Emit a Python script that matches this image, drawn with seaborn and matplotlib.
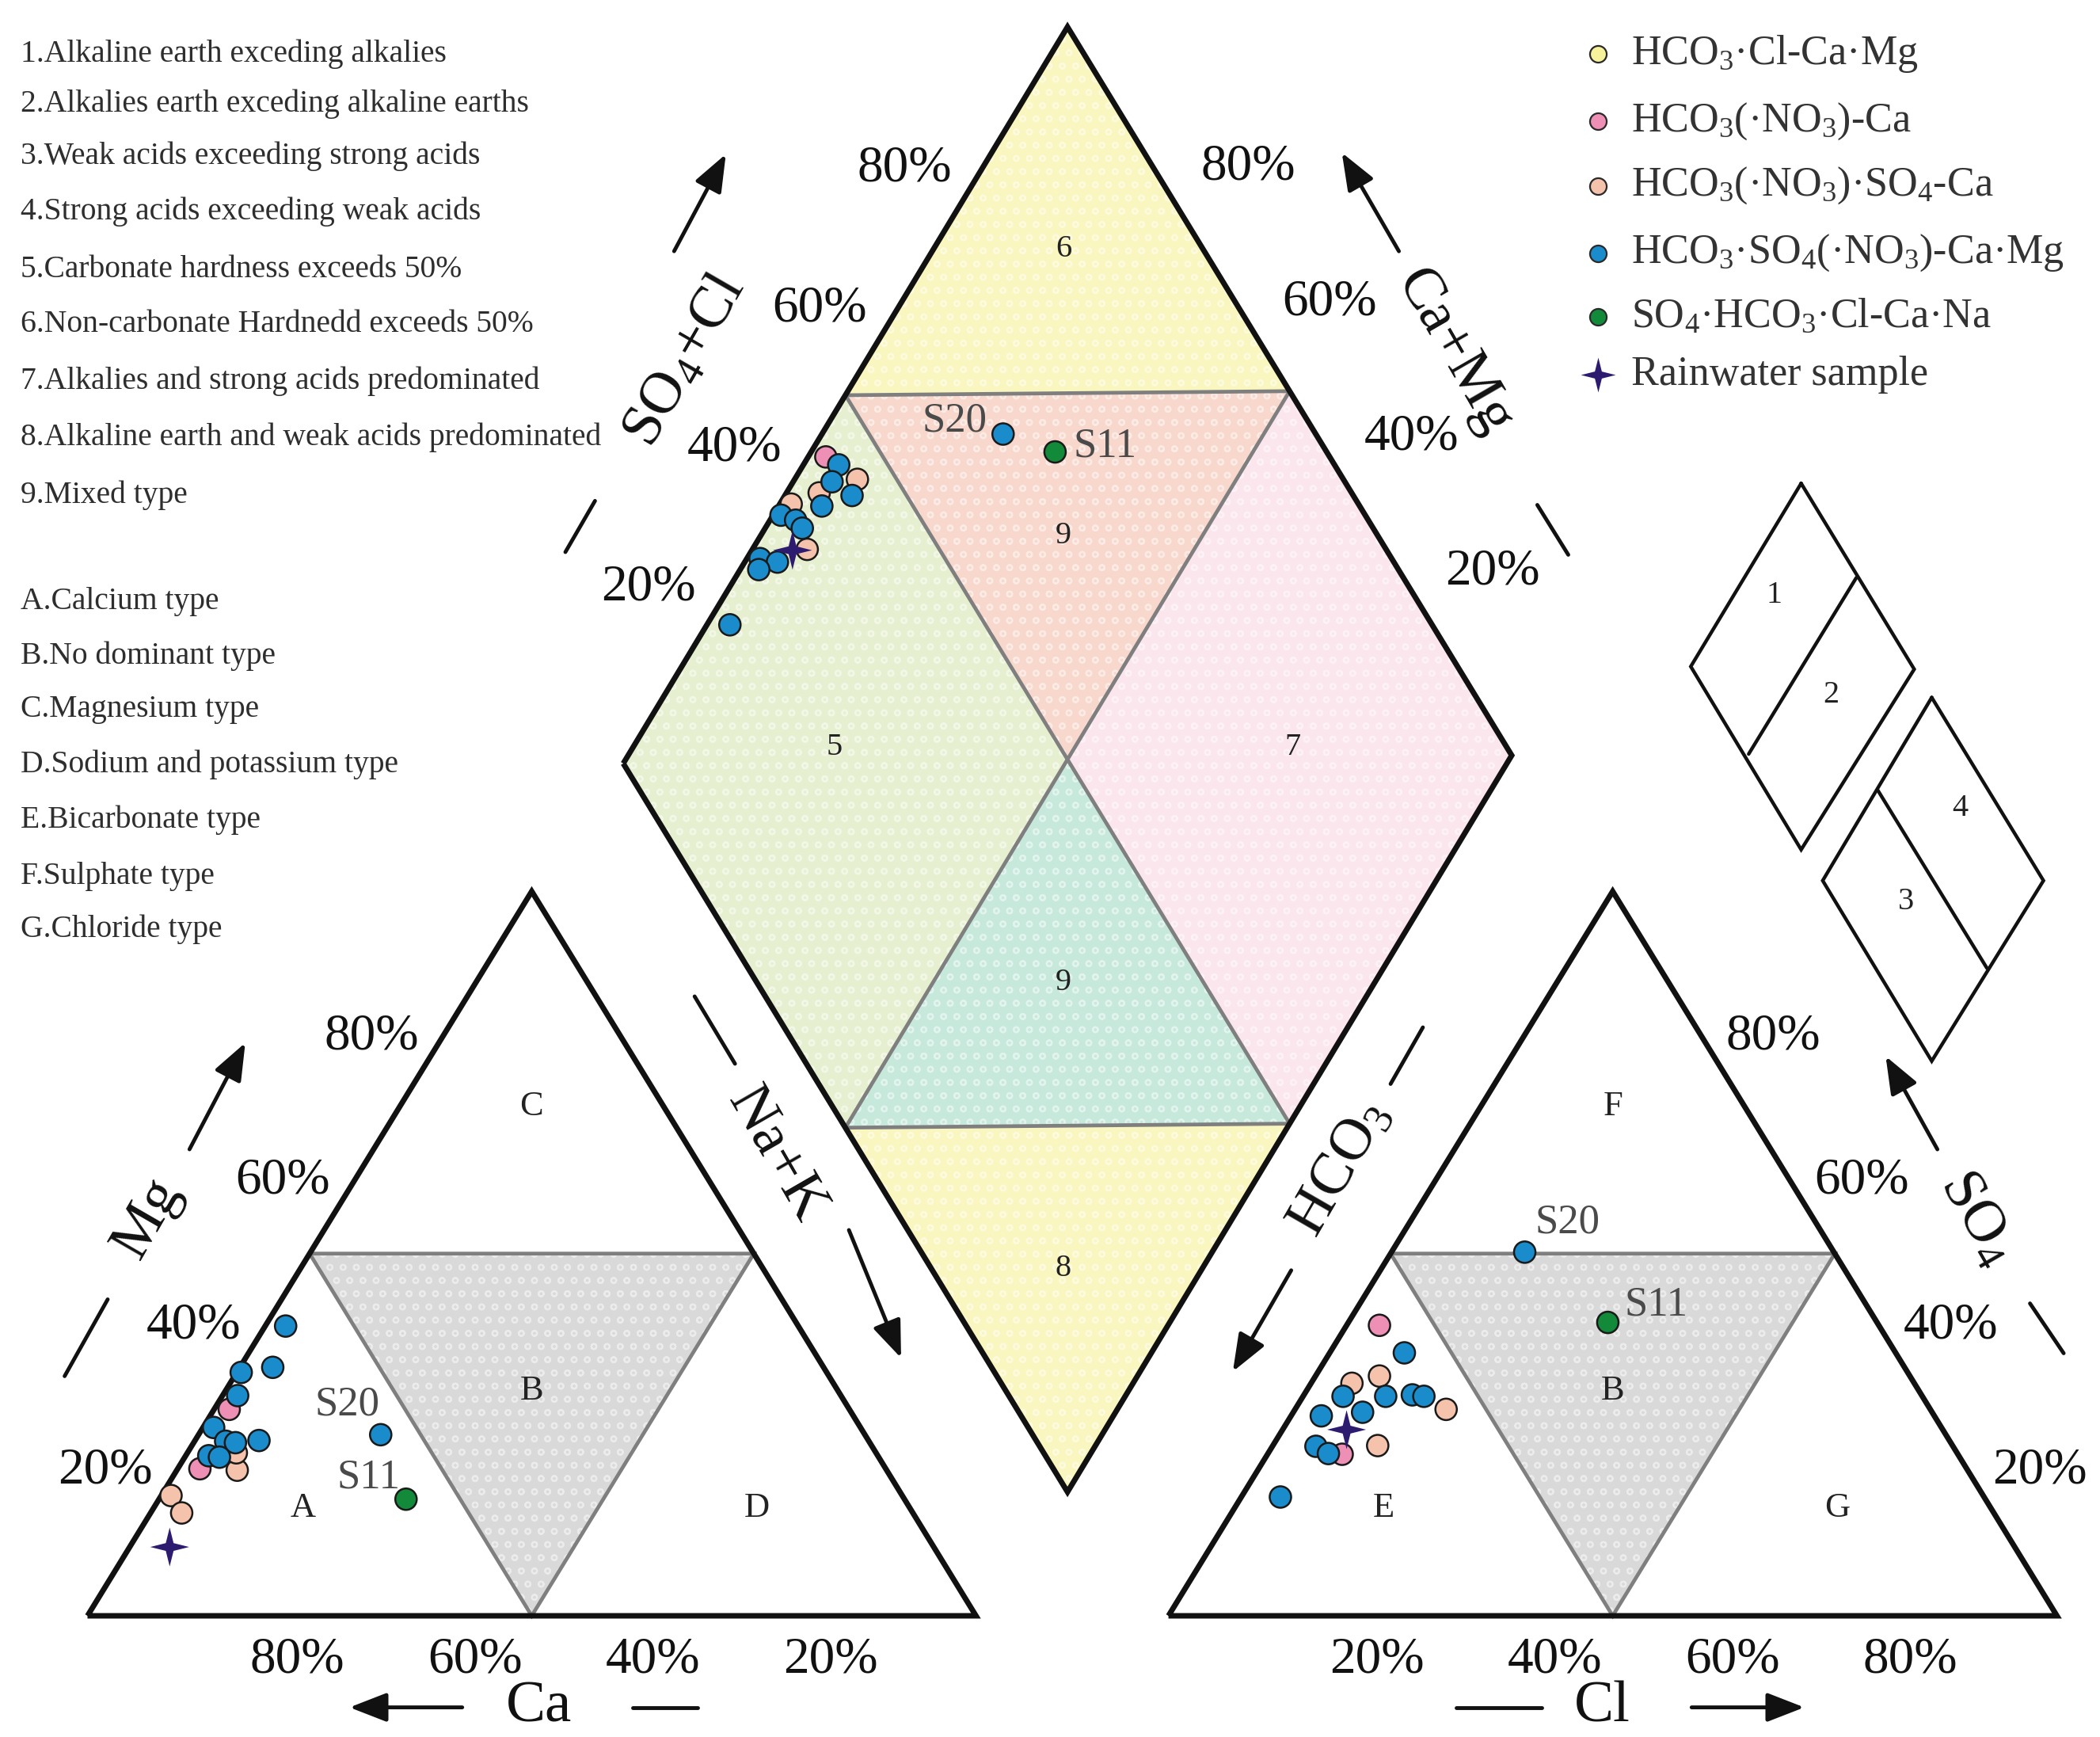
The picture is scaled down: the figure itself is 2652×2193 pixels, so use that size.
import numpy as np
import pandas as pd
import matplotlib
matplotlib.use("Agg")
import matplotlib.pyplot as plt
import seaborn as sns
from matplotlib.path import Path

# values, in percent (meq)
# cation triangle: Mg and Na+K
pink_mg = [28.5, 20.3]
pink_nak = [1.7, 2.5]
salmon_mg = [16.6, 14.2, 20.1, 22.5]
salmon_nak = [1.1, 3.5, 6.8, 5.5]
blue_mg = [40.0, 33.6, 34.3, 30.4, 26.0, 24.1, 23.9, 24.2, 22.1, 21.9, 25.0]
blue_nak = [2.3, 0.5, 3.7, 1.7, 1.2, 3.5, 4.7, 7.2, 2.6, 3.9, 20.5]
green_mg = [16.1]
green_nak = [27.8]
rain_mg = [9.5]
rain_nak = [4.5]

# anion triangle: SO4 and Cl
pink_so4 = [40.1, 22.3]
pink_cl = [3.7, 8.4]
salmon_so4 = [32.1, 33.1, 28.5, 23.5]
salmon_cl = [4.6, 7.2, 17.0, 11.8]
blue_so4 = [36.3, 30.3, 30.3, 30.5, 30.3, 28.1, 27.6, 23.4, 22.4, 16.4, 50.2]
blue_cl = [8.4, 4.5, 9.3, 12.2, 13.6, 7.8, 3.4, 4.9, 6.8, 4.4, 15.0]
green_so4 = [40.5]
green_cl = [29.2]
rain_so4 = [25.7]
rain_cl = [7.2]

# diamond: SO4+Cl and Na+K
pink_sc = [43.6]
pink_dn = [2.0]
salmon_sc = [45.6, 40.4, 36.5, 35.2]
salmon_dn = [7.1, 3.7, 1.3, 6.2]
blue_sc = [44.5, 42.6, 43.9, 39.8, 34.6, 35.9, 36.1, 29.3, 31.0, 28.4, 21.4, 65.0]
blue_dn = [4.0, 4.4, 7.6, 4.9, 0.9, 2.9, 4.2, 1.5, 3.7, 2.1, 2.6, 20.5]
green_sc = [69.6]
green_dn = [27.6]
rain_sc = [33.5]
rain_dn = [4.6]

ticks = [20, 40, 60, 80]

legend_labels = ["HCO$_3$·Cl-Ca·Mg", "HCO$_3$(·NO$_3$)-Ca", "HCO$_3$(·NO$_3$)·SO$_4$-Ca",
                 "HCO$_3$·SO$_4$(·NO$_3$)-Ca·Mg", "SO$_4$·HCO$_3$·Cl-Ca·Na", "Rainwater sample"]
legend_colors = ["#f6f29b", "#ee8fb5", "#f5c2ac", "#1b8ccb", "#138a3a", "#2d1b70"]

field_notes = ["1.Alkaline earth exceding alkalies",
               "2.Alkalies earth exceding alkaline earths",
               "3.Weak acids exceeding strong acids",
               "4.Strong acids exceeding weak acids",
               "5.Carbonate hardness exceeds 50%",
               "6.Non-carbonate Hardnedd exceeds 50%",
               "7.Alkalies and strong acids predominated",
               "8.Alkaline earth and weak acids predominated",
               "9.Mixed type"]
type_notes = ["A.Calcium type", "B.No dominant type", "C.Magnesium type",
              "D.Sodium and potassium type", "E.Bicarbonate type",
              "F.Sulphate type", "G.Chloride type"]


# geometry of the three plots (page units)
def cat_xy(mg, nak):
    mg = np.asarray(mg) / 100.0
    nak = np.asarray(nak) / 100.0
    return 65 + 660 * nak + 330 * mg, 1200 - 538 * mg


def an_xy(so4, cl):
    so4 = np.asarray(so4) / 100.0
    cl = np.asarray(cl) / 100.0
    return 868 + 660 * cl + 330 * so4, 1200 - 538 * so4


def dia_xy(s, n):
    s = np.asarray(s) / 100.0
    n = np.asarray(n) / 100.0
    return 463 + 330 * (s + n), 567 - 547 * s + 541 * n


sns.set_theme(style="white")
plt.rcParams["font.family"] = ["Liberation Serif", "DejaVu Serif"]
plt.rcParams["mathtext.fontset"] = "custom"
plt.rcParams["mathtext.rm"] = "Liberation Serif"
plt.rcParams["mathtext.it"] = "Liberation Serif:italic"
plt.rcParams["mathtext.default"] = "rm"
plt.rcParams["hatch.linewidth"] = 1.6

fig = plt.figure(figsize=(26.52, 21.93), dpi=100)
ax = fig.add_axes([0, 0, 1, 1])
ax.set_xlim(0, 1560)
ax.set_ylim(1290, 0)
ax.axis("off")

BLACK = "#111111"
GREY = "#7f7f7f"
dots = (1, 1, 1, 0.45)


def fill(fn, pts, color):
    a, b = zip(*pts)
    xs, ys = fn(a, b)
    ax.fill(xs, ys, facecolor=color, edgecolor=dots, hatch="o", linewidth=0, zorder=1)


def line(fn, pts, color, lw, z):
    a, b = zip(*pts)
    xs, ys = fn(a, b)
    ax.plot(xs, ys, color=color, lw=lw, zorder=z, solid_joinstyle="miter", solid_capstyle="butt")


# diamond fields
fill(dia_xy, [(100, 0), (50, 0), (100, 50)], "#faf6bf")
fill(dia_xy, [(50, 0), (100, 50), (50, 50)], "#f8d8cd")
fill(dia_xy, [(0, 0), (50, 0), (50, 50), (0, 50)], "#e6f0d1")
fill(dia_xy, [(100, 50), (100, 100), (50, 100), (50, 50)], "#fbe6ee")
fill(dia_xy, [(50, 50), (0, 50), (50, 100)], "#c6e9dc")
fill(dia_xy, [(0, 50), (0, 100), (50, 100)], "#faf6bf")
line(dia_xy, [(50, 0), (100, 50)], GREY, 3.4, 2)
line(dia_xy, [(0, 50), (50, 100)], GREY, 3.4, 2)
line(dia_xy, [(50, 0), (50, 100)], GREY, 3.4, 2)
line(dia_xy, [(100, 50), (0, 50)], GREY, 3.4, 2)
line(dia_xy, [(0, 0), (100, 0), (100, 100), (0, 100), (0, 0)], BLACK, 5, 3)

# triangles with the "no dominant type" field
for fn in (cat_xy, an_xy):
    fill(fn, [(50, 0), (50, 50), (0, 50)], "#d9d9d9")
    line(fn, [(50, 0), (50, 50), (0, 50), (50, 0)], GREY, 3.4, 2)
    line(fn, [(0, 0), (0, 100), (100, 0), (0, 0)], BLACK, 5, 3)

# samples
rows = []
for grp, mg, nak, so4, cl, sc, dn in [
    ("salmon", salmon_mg, salmon_nak, salmon_so4, salmon_cl, salmon_sc, salmon_dn),
    ("pink", pink_mg, pink_nak, pink_so4, pink_cl, pink_sc, pink_dn),
    ("blue", blue_mg, blue_nak, blue_so4, blue_cl, blue_sc, blue_dn),
    ("green", green_mg, green_nak, green_so4, green_cl, green_sc, green_dn),
    ("rain", rain_mg, rain_nak, rain_so4, rain_cl, rain_sc, rain_dn),
]:
    for fn, a, b in [(cat_xy, mg, nak), (an_xy, so4, cl), (dia_xy, sc, dn)]:
        xs, ys = fn(a, b)
        for x, y in zip(xs, ys):
            rows.append({"x": x, "y": y, "group": grp})
df = pd.DataFrame(rows)

pal = {"salmon": "#f5c2ac", "pink": "#ee8fb5", "blue": "#1b8ccb", "green": "#138a3a"}
sns.scatterplot(data=df[df.group != "rain"], x="x", y="y", hue="group", palette=pal,
                s=380, edgecolor="#1a1a1a", linewidth=1.8, legend=False, ax=ax, zorder=5)

star = Path([(0, 1), (0.2, 0.2), (1, 0), (0.2, -0.2), (0, -1), (-0.2, -0.2), (-1, 0), (-0.2, 0.2), (0, 1)],
            [Path.MOVETO] + [Path.LINETO] * 7 + [Path.CLOSEPOLY])
sns.scatterplot(data=df[df.group == "rain"], x="x", y="y", marker=star, s=1250, color="#2d1b70",
                edgecolor="none", legend=False, ax=ax, zorder=6)
ax.set_xlim(0, 1560)
ax.set_ylim(1290, 0)

# sample names
lab = dict(fontsize=38, color="#4a4a4a", ha="center", va="center", zorder=7)
x, y = cat_xy(blue_mg[-1], blue_nak[-1]); ax.text(x - 25, y - 22, "S20", **lab)
x, y = cat_xy(green_mg[0], green_nak[0]); ax.text(x - 28, y - 16, "S11", **lab)
x, y = an_xy(blue_so4[-1], blue_cl[-1]); ax.text(x + 32, y - 22, "S20", **lab)
x, y = an_xy(green_so4[0], green_cl[0]); ax.text(x + 36, y - 13, "S11", **lab)
x, y = dia_xy(blue_sc[-1], blue_dn[-1]); ax.text(x - 36, y - 10, "S20", **lab)
x, y = dia_xy(green_sc[0], green_dn[0]); ax.text(x + 37, y - 4, "S11", **lab)

# field numbers and letters
num = dict(fontsize=29, color="#222222", ha="center", va="center")
for t, (x, y) in zip("695978", [(790, 185), (790, 398), (620, 555), (790, 730), (960, 555), (790, 942)]):
    ax.text(x, y, t, **num)
let = dict(fontsize=32, color="#222222", ha="center", va="center")
for t, (x, y) in zip("CBAD", [(395, 822), (395, 1033), (225, 1120), (562, 1120)]):
    ax.text(x, y, t, **let)
for t, (x, y) in zip("FBEG", [(1198, 822), (1198, 1033), (1028, 1120), (1365, 1120)]):
    ax.text(x, y, t, **let)

# percentage scales
pct = dict(fontsize=47, color=BLACK, ha="center", va="center")
for v in ticks:
    k = (80 - v) / 60
    x, y = cat_xy(v, 0); ax.text(x - 53, y, f"{v}%", **pct)
    x, y = cat_xy(0, 100 - v); ax.text(x + 24, y + 33, f"{v}%", **pct)
    x, y = an_xy(0, v); ax.text(x + 23, y + 33, f"{v}%", **pct)
    x, y = an_xy(v, 100 - v); ax.text(x + 53, y, f"{v}%", **pct)
    x, y = dia_xy(v, 0); ax.text(x - 55 + 8 * k, y - 4 - 17 * k, f"{v}%", **pct)
    x, y = dia_xy(100, 100 - v); ax.text(x + 68 - 16 * k, y - 4 - 24 * k, f"{v}%", **pct)

# axis names with arrows
ttl = dict(fontsize=54, color=BLACK, ha="center", va="center")
arr = dict(arrowstyle="-|>,head_length=0.9,head_width=0.35", lw=3.5, color=BLACK, mutation_scale=32)


def axis_name(text, pos, rot, seg, arrow):
    ax.text(pos[0], pos[1], text, rotation=rot, rotation_mode="anchor", **ttl)
    ax.plot([seg[0], seg[2]], [seg[1], seg[3]], color=BLACK, lw=3.5)
    ax.annotate("", xy=arrow[2:], xytext=arrow[:2], arrowprops=arr)


axis_name("Ca", (400, 1268), 0, (470, 1268, 518, 1268), (345, 1268, 258, 1268))
axis_name("Mg", (110, 905), 60, (48, 1022, 80, 965), (140, 855, 183, 773))
axis_name("Cl", (1190, 1268), 0, (1082, 1268, 1145, 1268), (1255, 1268, 1342, 1268))
axis_name("SO$_4$", (1468, 905), -60, (1508, 968, 1533, 1005), (1440, 855, 1400, 783))
axis_name("SO$_4$+Cl", (510, 268), 60, (420, 410, 442, 372), (500, 188, 540, 113))
axis_name("Ca+Mg", (1080, 262), -60, (1142, 375, 1165, 412), (1040, 188, 996, 112))
axis_name("Na+K", (577, 858), -60, (516, 740, 546, 790), (630, 912, 670, 1010))
axis_name("HCO$_3$", (996, 868), 60, (1033, 805, 1057, 763), (960, 942, 915, 1020))

# small key diamonds
key = dict(color=BLACK, lw=3.2, solid_joinstyle="miter")
ax.plot([1338, 1256, 1338, 1422, 1338], [359, 495, 631, 497, 359], **key)
ax.plot([1379, 1299], [429, 560], **key)
ax.plot([1435, 1354, 1435, 1518, 1435], [518, 654, 788, 654, 518], **key)
ax.plot([1395, 1476], [587, 719], **key)
kn = dict(fontsize=29, color="#222222", ha="center", va="center")
for t, (x, y) in zip("1243", [(1318, 442), (1360, 516), (1456, 600), (1416, 670)]):
    ax.text(x, y, t, **kn)

# notes
for i, t in enumerate(field_notes):
    ax.text(15, [40, 77, 116, 157, 200, 241, 283, 325, 368][i], t, fontsize=28.5, color="#2e2e2e", va="center")
for i, t in enumerate(type_notes):
    ax.text(15, [447, 487, 527, 568, 609, 651, 690][i], t, fontsize=28.5, color="#2e2e2e", va="center")

# legend
for i, (t, c) in enumerate(zip(legend_labels, legend_colors)):
    y = [40, 90, 138, 188, 235, 278][i]
    if i < 5:
        ax.scatter([1187], [y], s=230, color=c, edgecolor="#2a2a2a", linewidth=1.6, zorder=8)
    else:
        ax.scatter([1187], [y], s=1000, marker=star, color=c, linewidth=0, zorder=8)
    ax.text(1212, y, t, fontsize=37.5, color="#333333", va="center")

fig.savefig("out.png", dpi=100, facecolor="white")
